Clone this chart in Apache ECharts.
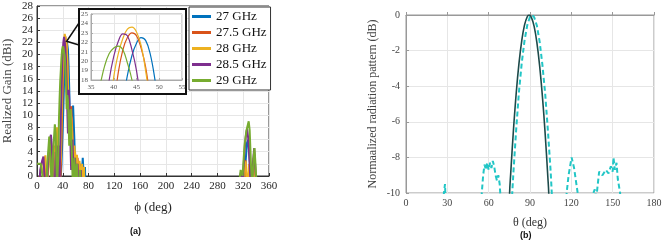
<!DOCTYPE html>
<html>
<head>
<meta charset="utf-8">
<script src="https://cdn.jsdelivr.net/npm/echarts@6/dist/echarts.min.js"></script>
<style>
  html, body { margin: 0; padding: 0; background: #fff; }
  #main { width: 668px; height: 242px; }
</style>
</head>
<body>
<div id="main"></div>
<script>
// (a) realized gain vs phi, [phi, gain] pairs
var names = ['27 GHz', '27.5 GHz', '28 GHz', '28.5 GHz', '29 GHz']
var colors = ['#0072BD', '#D95319', '#EDB120', '#7E2F8E', '#77AC30']

var gain27 = [[0, -6], [4, -2], [7, -6], [11, 1.5], [14, -3], [18, 2.5], [21, 4], [24, -1], [27, 3], [30, -3], [33, 1], [36, -2], [38, 2], [40, 8], [41, 11.5], [42, 15.5], [43, 18.5], [44, 20.6], [45, 21.9], [46, 22.5], [47, 22.2], [48, 20.8], [49, 18.2], [50, 14.5], [51, 10], [52, 8.5], [54, 10.5], [56, 11.6], [58, 6], [60, -1], [62, 2.5], [64, -2], [67, 2], [69, -1], [71, 3], [73, -1], [74.5, 1.5], [76, -8], [80, -20], [310, -20], [316, -4], [320, -1], [323, 1.5], [326, 5.5], [328, 6], [331, 1], [334, -4], [337, 3], [340, -3], [344, -20], [360, -20]]
var gain275 = [[0, -5], [5, -1], [8, -5], [12, 2.8], [15, -3], [19, 4.5], [22, 5], [25, -2], [28, 5], [30, -4], [32, 7.5], [34, 2], [36, -3], [38, 6], [39, 10.5], [40, 15], [41, 18.8], [42, 21.2], [43, 22.5], [44, 23], [45, 22.7], [46, 21.4], [47, 19.4], [48, 16], [49, 11.5], [50, 8], [51, 10], [53, 11.5], [55, 7], [57, -2], [59, 4], [61, 1], [63, 3], [65, -1], [67, 2], [70, -3], [72, 1.5], [74, -6], [78, -20], [310, -20], [318, -5], [321, 1], [323.5, 2.6], [325, -1], [327, -5], [330, -2], [333, -8], [336, 2], [338, -4], [342, -20], [360, -20]]
var gain28 = [[0, -4], [4, 0], [7, -4], [10, 2], [13, 3.4], [16, -2], [20, 5.5], [23, 3], [26, -1], [29, 6], [31, 8], [33, 8.2], [35, 1], [37, 3], [38, 9], [39, 13.5], [40, 18.3], [41, 20.8], [42, 22.4], [43, 23.4], [44, 23.6], [45, 23.1], [46, 21.7], [47, 19], [48, 15.5], [49, 11], [50, 9], [52, 11], [54, 8], [56, 0], [58, 5], [60, 2], [62, 3.5], [64, -2], [66, 2.5], [68, -1], [70, 2], [72, -3], [73, 1.5], [76, -20], [310, -20], [318, -3], [321, 0.5], [323.5, 2.4], [326, -2], [329, 2], [332, -5], [336, 3], [339, -6], [342, -20], [360, -20]]
var gain285 = [[0, -8], [3, -3], [5, 1], [8, 2.5], [10, 3.2], [12, -1], [14, -6], [17, 2], [20, 6], [21.6, 6.8], [23, 5], [25, -3], [27, -5], [29, 4], [31, -2], [33, 5], [35, -1], [36, 4], [37, 10], [38, 14], [39, 18], [40, 20.5], [41, 22.1], [42, 22.9], [43, 22.7], [44, 21.2], [45, 19], [46, 15.5], [47, 11], [48, 7], [49.5, 14.2], [51, 9], [53, 1], [55, 6], [57, -1], [59, 3], [61, -2], [63, 2], [65, -5], [68, 1], [70, -4], [74, -20], [308, -20], [313, -3], [316, 0.5], [319, -1], [322, 4], [324, 6.5], [326, 7.8], [328, 6], [330, 2], [332, -3], [335, 2], [337, 4.6], [339, 1], [341, -3], [345, -20], [360, -20]]
var gain29 = [[0, 2], [3, 2.1], [6, 2], [9, 1.8], [11, -2], [13, -6], [16, 2], [19, 6.5], [21, 3], [23, -3], [25, 4], [27.7, 8.5], [29, 7], [31, -2], [33, 3], [34, 9], [35, 12.5], [36, 15.5], [37, 17.5], [38, 19.5], [39, 20.8], [40, 21.4], [41, 21.6], [42, 21.2], [43, 19.8], [44, 18], [45, 15], [46, 11], [47, 13.3], [48, 12.5], [49, 9], [50, 5], [52, 11], [54, 4], [56, -3], [58, 3], [60, -1], [62, 2], [64, -4], [67, 1], [70, -5], [74, -20], [308, -20], [313, -2], [316, 1], [319, 0], [322, 5], [325, 7.5], [328.5, 9], [330, 7.5], [332, 2], [334, -2], [336, 3], [337.5, 4.6], [339, 2], [341, -2], [344, -20], [360, -20]]
var gains = [gain27, gain275, gain28, gain285, gain29]

// (b) normalized radiation pattern vs theta
var patternSolid = [[74, -14], [75.2, -10], [76, -8.9], [78, -6.45], [80, -4.38], [82, -2.72], [84, -1.45], [86, -0.57], [88, -0.1], [89.4, 0], [91, -0.13], [93, -0.64], [95, -1.55], [97, -2.86], [99, -4.57], [101, -6.67], [103, -9.17], [103.6, -10], [105, -14]]
var patternDashed = [[0, -14], [26, -14], [27.5, -10], [28.3, -9.5], [29, -11], [30, -14], [54, -14], [55, -10], [56, -9], [57, -8.4], [58, -8.7], [59, -8.3], [60, -8.7], [61, -8.3], [62, -8.6], [63, -8.2], [64, -8.5], [65, -9], [66, -9.3], [67, -9], [68, -9.5], [68.8, -10.5], [70, -14], [76, -14], [77.1, -10], [78, -8.8], [80, -6.4], [82, -4.3], [84, -2.7], [86, -1.45], [88, -0.58], [90, -0.1], [91.5, 0], [93, -0.12], [95, -0.6], [97, -1.5], [99, -2.8], [101, -4.4], [103, -6.5], [105, -8.8], [105.8, -10], [107, -14], [115, -14], [116.6, -10], [118, -9], [120.2, -8], [122, -8.6], [124.6, -10], [126, -14], [135, -14], [136, -10], [137, -9.8], [138, -10.2], [138.5, -10], [140.2, -8.8], [142.6, -9], [145, -8.7], [147, -8.9], [148.7, -8.5], [150, -8.8], [150.6, -8], [151.6, -8.7], [152.8, -8.3], [153.7, -9.2], [155.4, -10], [157, -14], [180, -14]]

var serif = 'Liberation Serif'
var chart = echarts.init(document.getElementById('main'))

function axisLabel (size) {
  return { fontFamily: serif, fontSize: size, color: '#262626' }
}

var series = []
gains.forEach(function (d, i) {
  series.push({
    name: names[i], type: 'line', xAxisIndex: 0, yAxisIndex: 0, data: d,
    showSymbol: false, clip: true, z: 2,
    lineStyle: { color: colors[i], width: 2 }, itemStyle: { color: colors[i] }
  })
})
gains.forEach(function (d, i) {
  series.push({
    name: names[i], type: 'line', xAxisIndex: 1, yAxisIndex: 1, data: d,
    showSymbol: false, clip: true, smooth: 0.4, z: 5,
    lineStyle: { color: colors[i], width: 1.2 }, itemStyle: { color: colors[i] }
  })
})
series.push({
  type: 'line', xAxisIndex: 2, yAxisIndex: 2, data: patternDashed,
  showSymbol: false, clip: true,
  lineStyle: { color: '#22c6c6', width: 2, type: [5, 3] }
})
series.push({
  type: 'line', xAxisIndex: 2, yAxisIndex: 2, data: patternSolid,
  showSymbol: false, clip: true, smooth: 0.4,
  lineStyle: { color: '#1d4a4a', width: 1.6 }
})

var option = {
  animation: false,
  grid: [
    { left: 36, top: 6, width: 233, height: 170, show: true, borderColor: '#333', borderWidth: 1 },
    { left: 91, top: 14, width: 91, height: 66, show: true, borderColor: '#aaa', borderWidth: 1, z: 4 },
    { left: 406, top: 15, width: 248, height: 178, show: true, borderColor: '#999', borderWidth: 1 }
  ],
  xAxis: [
    {
      gridIndex: 0, type: 'value', min: 0, max: 360, interval: 40,
      name: 'ϕ (deg)', nameLocation: 'middle', nameGap: 25,
      nameTextStyle: { fontFamily: serif, fontSize: 13, color: '#262626' },
      axisLine: { lineStyle: { color: '#333' } },
      axisTick: { inside: true, length: 3, lineStyle: { color: '#333' } },
      axisLabel: Object.assign(axisLabel(11), { margin: 5 }),
      splitLine: { lineStyle: { color: '#e6e6e6' } }
    },
    {
      gridIndex: 1, type: 'value', min: 35, max: 55, interval: 5, z: 4,
      axisLine: { lineStyle: { color: '#aaa' } },
      axisTick: { inside: true, length: 2, lineStyle: { color: '#aaa' } },
      axisLabel: Object.assign(axisLabel(7), { margin: 4, color: '#555' }),
      splitLine: { lineStyle: { color: '#e6e6e6' } }
    },
    {
      gridIndex: 2, type: 'value', min: 0, max: 180, interval: 30,
      name: 'θ (deg)', nameLocation: 'middle', nameGap: 24,
      nameTextStyle: { fontFamily: serif, fontSize: 12, color: '#333' },
      axisLine: { lineStyle: { color: '#999' } },
      axisTick: { inside: true, length: 3, lineStyle: { color: '#999' } },
      axisLabel: Object.assign(axisLabel(10), { margin: 5, color: '#444' }),
      splitLine: { lineStyle: { color: '#e6e6e6' } }
    }
  ],
  yAxis: [
    {
      gridIndex: 0, type: 'value', min: 0, max: 28, interval: 2,
      name: 'Realized Gain (dBi)', nameLocation: 'middle', nameGap: 23,
      nameTextStyle: { fontFamily: serif, fontSize: 13, color: '#444' },
      axisLine: { lineStyle: { color: '#333' } },
      axisTick: { inside: true, length: 3, lineStyle: { color: '#333' } },
      axisLabel: Object.assign(axisLabel(11), { margin: 4 }),
      splitLine: { lineStyle: { color: '#e6e6e6' } }
    },
    {
      gridIndex: 1, type: 'value', min: 18, max: 25, interval: 1, z: 4,
      axisLine: { lineStyle: { color: '#aaa' } },
      axisTick: { inside: true, length: 2, lineStyle: { color: '#aaa' } },
      axisLabel: Object.assign(axisLabel(7), { margin: 3, color: '#555' }),
      splitLine: { lineStyle: { color: '#e6e6e6' } }
    },
    {
      gridIndex: 2, type: 'value', min: -10, max: 0, interval: 2,
      name: 'Normaalized radiation pattern (dB)', nameLocation: 'middle', nameGap: 27,
      nameTextStyle: { fontFamily: serif, fontSize: 12, color: '#444' },
      axisLine: { lineStyle: { color: '#999' } },
      axisTick: { inside: true, length: 3, lineStyle: { color: '#999' } },
      axisLabel: Object.assign(axisLabel(10), { margin: 6, color: '#444' }),
      splitLine: { lineStyle: { color: '#e6e6e6' } }
    }
  ],
  legend: {
    data: names, orient: 'vertical', left: 189, top: 7, z: 10,
    padding: [3, 4, 3, 3], itemGap: 3, itemWidth: 19, itemHeight: 3, icon: 'rect',
    backgroundColor: '#fff', borderColor: '#333', borderWidth: 1,
    textStyle: { fontFamily: serif, fontSize: 13, color: '#111' }
  },
  graphic: [
    { type: 'rect', z: 3, shape: { x: 79, y: 9, width: 107, height: 85 },
      style: { fill: '#fff', stroke: '#111', lineWidth: 2 } },
    { type: 'text', left: 130, top: 227, style: { text: '(a)', font: 'bold 9px "Liberation Sans"', fill: '#111' } },
    { type: 'text', left: 520, top: 231, style: { text: '(b)', font: 'bold 9px "Liberation Sans"', fill: '#111' } }
  ],
  series: series
}

chart.setOption(option)

// callout from the main-lobe peak to the inset frame
var peak = chart.convertToPixel({ gridIndex: 0 }, [46, 22.2])
option.graphic.push({
  type: 'polyline', z: 3,
  shape: { points: [[79, 23], peak, [79, 45]] },
  style: { stroke: '#111', lineWidth: 1.5, fill: null }
})
chart.setOption({ graphic: option.graphic })
</script>
</body>
</html>
